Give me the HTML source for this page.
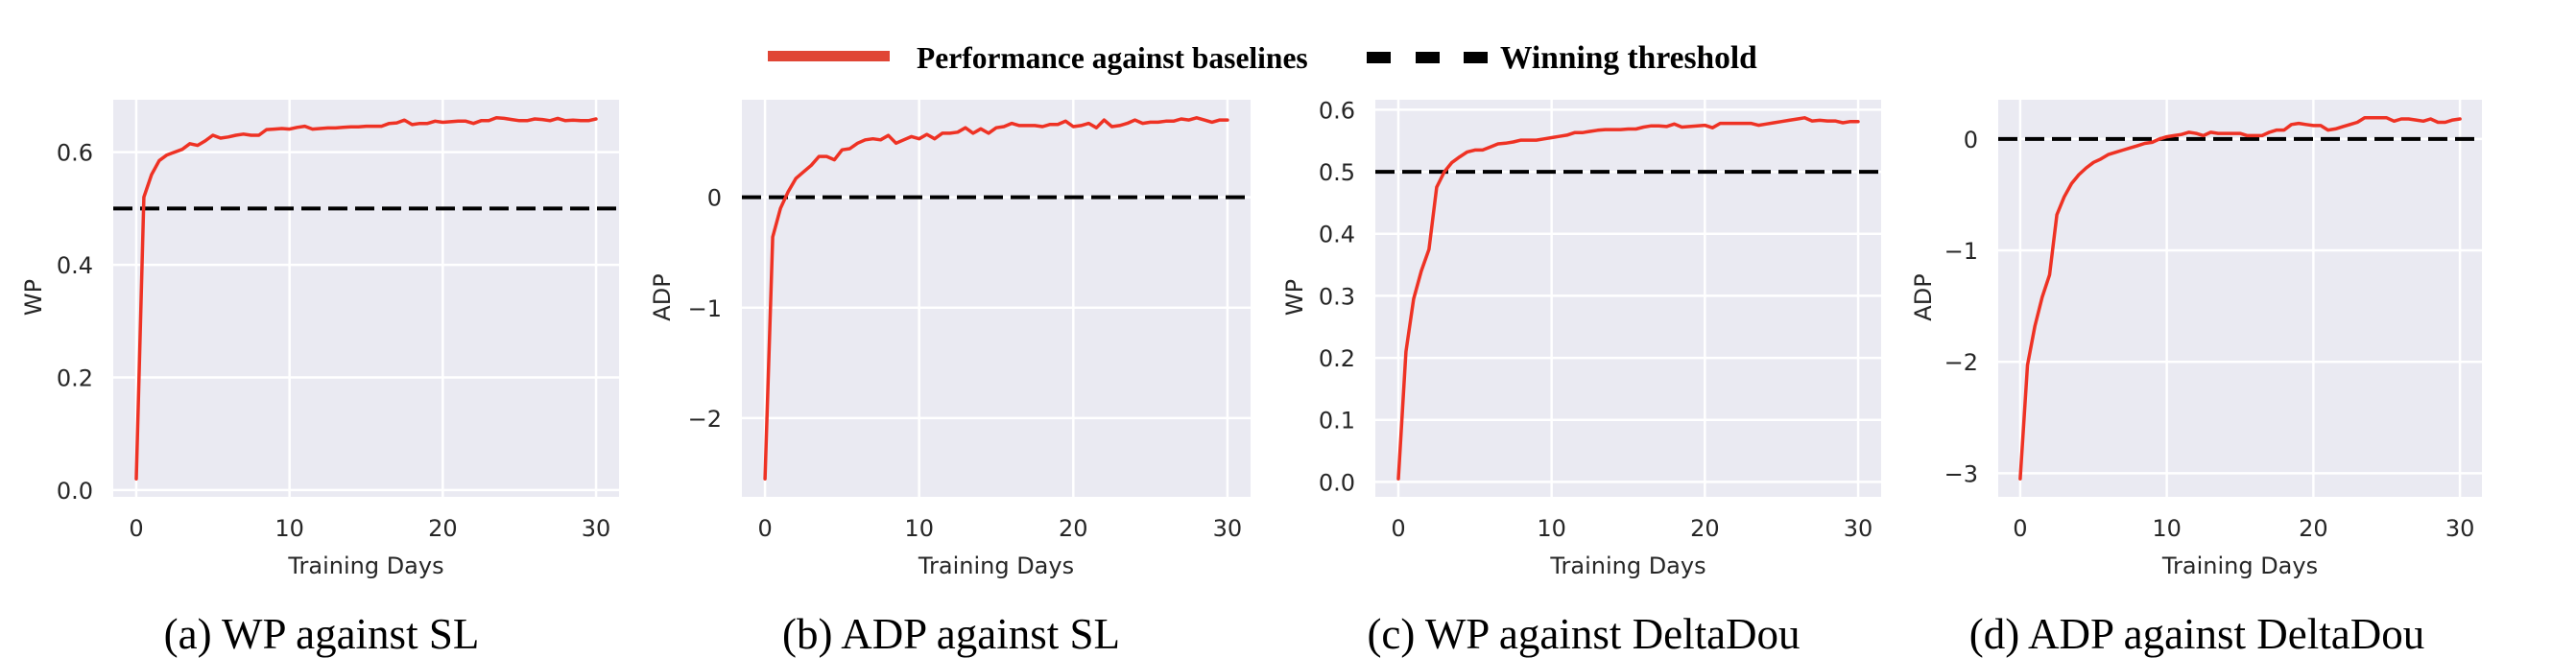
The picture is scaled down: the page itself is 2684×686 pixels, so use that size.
<!DOCTYPE html>
<html><head><meta charset="utf-8"><style>
html,body{margin:0;padding:0;background:#fff;}
svg{display:block;}
</style></head><body>
<svg id="fig" width="2684" height="686" xmlns="http://www.w3.org/2000/svg">
<g>
  <rect x="800" y="53" width="127" height="11" fill="#E04535"/>
  <text x="955" y="71" font-family="Liberation Serif, serif" font-weight="bold" font-size="31.5">Performance against baselines</text>
  <rect x="1424" y="54" width="25" height="12" fill="#000"/>
  <rect x="1475" y="54" width="25" height="12" fill="#000"/>
  <rect x="1525" y="54" width="25" height="12" fill="#000"/>
  <text x="1563" y="71" font-family="Liberation Serif, serif" font-weight="bold" font-size="33.5">Winning threshold</text>
</g>
</svg>
<script>
const days = [];
for (let i = 0; i <= 60; i++) days.push(i * 0.5);
const wpSL = [0.02,0.52,0.56,0.585,0.595,0.60,0.605,0.615,0.612,0.62,0.63,0.625,0.627,0.63,0.632,0.63,0.63,0.64,0.641,0.642,0.641,0.644,0.646,0.641,0.642,0.643,0.643,0.644,0.645,0.645,0.646,0.646,0.646,0.651,0.652,0.657,0.649,0.651,0.651,0.655,0.653,0.654,0.655,0.655,0.651,0.656,0.656,0.661,0.66,0.658,0.656,0.656,0.659,0.658,0.656,0.66,0.656,0.657,0.656,0.656,0.659];
const adpSL = [-2.55,-0.36,-0.1,0.05,0.17,0.23,0.29,0.37,0.37,0.34,0.43,0.44,0.49,0.52,0.53,0.52,0.56,0.49,0.52,0.55,0.53,0.57,0.53,0.58,0.58,0.59,0.63,0.58,0.62,0.58,0.63,0.64,0.67,0.65,0.65,0.65,0.64,0.66,0.66,0.69,0.64,0.65,0.67,0.63,0.70,0.64,0.65,0.67,0.70,0.67,0.68,0.68,0.69,0.69,0.71,0.70,0.72,0.70,0.68,0.70,0.70];
const wpDD = [0.005,0.21,0.295,0.34,0.375,0.475,0.50,0.515,0.524,0.532,0.535,0.535,0.54,0.545,0.546,0.548,0.551,0.551,0.551,0.553,0.555,0.557,0.559,0.563,0.563,0.565,0.567,0.568,0.568,0.568,0.569,0.569,0.572,0.574,0.574,0.573,0.577,0.572,0.573,0.574,0.575,0.571,0.578,0.578,0.578,0.578,0.578,0.575,0.577,0.579,0.581,0.583,0.585,0.587,0.582,0.583,0.582,0.582,0.579,0.581,0.581];
const adpDD = [-3.05,-2.03,-1.68,-1.42,-1.22,-0.68,-0.52,-0.4,-0.32,-0.26,-0.21,-0.18,-0.14,-0.12,-0.10,-0.08,-0.06,-0.04,-0.03,0.0,0.02,0.03,0.04,0.06,0.05,0.03,0.06,0.05,0.05,0.05,0.05,0.03,0.03,0.03,0.06,0.08,0.08,0.13,0.14,0.13,0.12,0.12,0.08,0.09,0.11,0.13,0.15,0.19,0.19,0.19,0.19,0.16,0.18,0.18,0.17,0.16,0.18,0.15,0.15,0.17,0.18];
const xTicks = [0, 10, 20, 30];
const ticksWP_SL = [0, 0.2, 0.4, 0.6];
const ticksADP_SL = [-2, -1, 0];
const ticksWP_DD = [0, 0.1, 0.2, 0.3, 0.4, 0.5, 0.6];
const ticksADP_DD = [-3, -2, -1, 0];
const thresholdWP = 0.5;
const thresholdADP = 0;

const NS = "http://www.w3.org/2000/svg";
const svg = document.getElementById('fig');
function mk(tag, attrs, parent) {
  const e = document.createElementNS(NS, tag);
  for (const k in attrs) e.setAttribute(k, attrs[k]);
  parent.appendChild(e);
  return e;
}
function fmt(v, dec) { const s = v.toFixed(dec); return v < 0 ? '\u2212' + s.slice(1) : s; }

const panels = [
  {id:'a', L:118, R:645, ys:wpSL, ticks:ticksWP_SL, dec:1, thr:thresholdWP, ylab:'WP', ylabX:35, cap:'(a) WP against SL', capX:335},
  {id:'b', L:773, R:1303, ys:adpSL, ticks:ticksADP_SL, dec:0, thr:thresholdADP, ylab:'ADP', ylabX:690, cap:'(b) ADP against SL', capX:991},
  {id:'c', L:1433, R:1960, ys:wpDD, ticks:ticksWP_DD, dec:1, thr:thresholdWP, ylab:'WP', ylabX:1349, cap:'(c) WP against DeltaDou', capX:1650},
  {id:'d', L:2082, R:2586, ys:adpDD, ticks:ticksADP_DD, dec:0, thr:thresholdADP, ylab:'ADP', ylabX:2004, cap:'(d) ADP against DeltaDou', capX:2289}
];
const T = 104, B = 518;
panels.forEach(p => {
  const g = mk('g', {}, svg);
  
  
  const xmin = -1.5, xmax = 31.5;
  const ymin0 = Math.min(...p.ys, p.thr), ymax0 = Math.max(...p.ys, p.thr);
  const pad = (ymax0 - ymin0) * 0.05;
  const ymin = ymin0 - pad, ymax = ymax0 + pad;
  const sx = v => p.L + (v - xmin) / (xmax - xmin) * (p.R - p.L);
  const sy = v => B - (v - ymin) / (ymax - ymin) * (B - T);
  const bg = mk('rect', {x:p.L, y:T, width:p.R - p.L, height:B - T, fill:'#EAEAF2'}, g);
  
  
  xTicks.forEach(t => {
    const l = mk('line', {x1:sx(t), x2:sx(t), y1:T, y2:B, stroke:'#fff', 'stroke-width':2.5}, g);
    
    
    const tx = mk('text', {x:sx(t), y:559, 'text-anchor':'middle', 'font-family':'DejaVu Sans, sans-serif', 'font-size':24, fill:'#262626'}, g);
    tx.textContent = t;
    
    
  });
  p.ticks.forEach(t => {
    const l = mk('line', {x1:p.L, x2:p.R, y1:sy(t), y2:sy(t), stroke:'#fff', 'stroke-width':2.5}, g);
    
    
    const tx = mk('text', {x:p.L - 21, y:sy(t) + 9, 'text-anchor':'end', 'font-family':'DejaVu Sans, sans-serif', 'font-size':24, fill:'#262626'}, g);
    tx.textContent = fmt(t, p.dec);
    
    
  });
  const th = mk('line', {x1:p.L, x2:p.R, y1:sy(p.thr), y2:sy(p.thr), stroke:'#000', 'stroke-width':4, 'stroke-dasharray':'20 8'}, g);
  
  
  const pts = days.map((d, i) => sx(d).toFixed(1) + ',' + sy(p.ys[i]).toFixed(1)).join(' ');
  const pl = mk('polyline', {points:pts, fill:'none', stroke:'#EE3224', 'stroke-width':3.5, 'stroke-linejoin':'round', 'stroke-linecap':'round'}, g);
  
  
  const xl = mk('text', {x:(sx(0) + sx(30)) / 2, y:598, 'text-anchor':'middle', 'font-family':'DejaVu Sans, sans-serif', 'font-size':24, fill:'#262626'}, g);
  xl.textContent = 'Training Days';
  
  
  const cy = 310;
  const yl = mk('text', {x:p.ylabX, y:cy, 'text-anchor':'middle', 'dominant-baseline':'central', transform:'rotate(-90 ' + p.ylabX + ' ' + cy + ')', 'font-family':'DejaVu Sans, sans-serif', 'font-size':24, fill:'#262626'}, g);
  yl.textContent = p.ylab;
  
  
  const cap = mk('text', {x:p.capX, y:676, 'text-anchor':'middle', 'font-family':'Liberation Serif, serif', 'font-size':45, fill:'#000'}, g);
  cap.textContent = p.cap;
  
  
});
</script>
</body></html>
